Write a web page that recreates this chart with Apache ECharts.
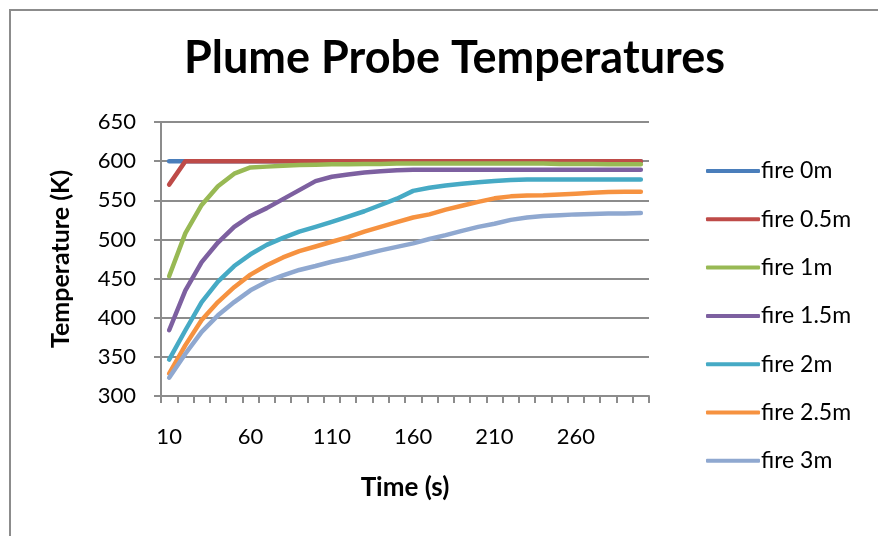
<!DOCTYPE html>
<html>
<head>
<meta charset="utf-8">
<script src="https://cdn.jsdelivr.net/npm/echarts@6/dist/echarts.min.js"></script>
<style>html,body{margin:0;padding:0;background:#fff}#c{width:878px;height:536px}</style>
</head>
<body>
<div id="c"></div>
<script>
const categories = ['10','20','30','40','50','60','70','80','90','100','110','120','130','140','150','160','170','180','190','200','210','220','230','240','250','260','270','280','290','300'];
const seriesNames = ['fire 0m','fire 0.5m','fire 1m','fire 1.5m','fire 2m','fire 2.5m','fire 3m'];
const fire0 = [600,600,600,600,600,600,600,600,600,600,600,600,600,600,600,600,600,600,600,600,600,600,600,600,600,600,600,600,600,600];
const fire05 = [570,600,600,600,600,600,600,600,600,600,600,600,600,600,600,600,600,600,600,600,600,600,600,600,600,600,600,600,600,600];
const fire1 = [453,508,544,568,584,592,593,594,595,595.5,596,596,596.5,596.5,597,597,597,597,597,597,597,597,597,597,596.5,596.5,596.5,596,596,596];
const fire15 = [384,435,471,496,516,530,540,551.5,563,574.5,580,583,585.5,587,588.5,589,589,589,589,589,589,589,589,589,589,589,589,589,589,589];
const fire2 = [346.5,384,420,446,466,481,493,502,510,516,522.5,529,536,544,552,562,566,569,571,573,574.5,576,576.5,576.5,576.5,576.5,576.5,576.5,576.5,576.5];
const fire25 = [328.6,365,397,420,439,455,467,477,485,491,497,503,510,516,522,528,532,538,543,548,552.5,555,556,556.5,557.5,558.5,559.5,560.5,561,561];
const fire3 = [323.4,354,382,403,420,435,446,454,461,466,471.5,476,481,486,490.5,495,500.5,505.5,511,516,520,525,528,530,531,532,532.5,533,533.2,533.6];
const yTicks = [300,350,400,450,500,550,600,650];

const allData = [fire0, fire05, fire1, fire15, fire2, fire25, fire3];
const colors = ['#4A7EBB','#BE4B48','#98B954','#7D60A0','#46AAC5','#F69240','#8FA8D0'];
const FONT = 'Lato';
const gray = '#8c8c8c';

const chart = echarts.init(document.getElementById('c'), null, {renderer:'canvas'});
chart.setOption({
  animation: false,
  backgroundColor: '#fff',
  color: colors,
  textStyle: {fontFamily: FONT},
  graphic: [{
    type: 'rect', silent: true, z: -1,
    shape: {x: 10, y: 10, width: 1000, height: 1000},
    style: {fill: 'none', stroke: gray, lineWidth: 2}
  }],
  title: {
    text: 'Plume Probe Temperatures',
    left: 179, top: 31,
    textStyle: {fontFamily: FONT, fontWeight: 'bold', fontSize: 45, color: '#000'}
  },
  legend: {
    orient: 'vertical',
    left: 706, top: 159,
    padding: 0,
    icon: 'roundRect',
    itemWidth: 54, itemHeight: 4, itemGap: 24.3,
    data: seriesNames,
    textStyle: {fontFamily: FONT, fontSize: 23, color: '#000', lineHeight: 24, padding: [0, 0, 0, -4]}
  },
  grid: {left: 161, right: 229, top: 122, bottom: 140, containLabel: false},
  xAxis: {
    type: 'category',
    data: categories,
    boundaryGap: true,
    name: 'Time (s)',
    nameLocation: 'middle',
    nameGap: 79,
    nameTextStyle: {fontFamily: FONT, fontWeight: 'bold', fontSize: 26, color: '#000'},
    axisLine: {lineStyle: {color: gray, width: 2}},
    axisTick: {show: true, interval: 0, length: 7, lineStyle: {color: gray, width: 2}},
    axisLabel: {interval: 4, margin: 30, fontFamily: FONT, fontSize: 22, color: '#000'},
    splitLine: {show: false}
  },
  yAxis: {
    type: 'value',
    min: yTicks[0], max: yTicks[yTicks.length-1], interval: 50,
    name: 'Temperature (K)',
    nameLocation: 'middle',
    nameGap: 88,
    nameRotate: 90,
    nameTextStyle: {fontFamily: FONT, fontWeight: 'bold', fontSize: 25, color: '#000'},
    axisLine: {show: true, lineStyle: {color: gray, width: 2}},
    axisTick: {show: true, length: 7, lineStyle: {color: gray, width: 2}},
    axisLabel: {margin: 25, fontFamily: FONT, fontSize: 22, color: '#000'},
    splitLine: {show: true, lineStyle: {color: gray, width: 2}}
  },
  series: seriesNames.map((n, i) => ({
    name: n,
    type: 'line',
    data: allData[i],
    symbol: 'none',
    showSymbol: false,
    lineStyle: {width: 4.5, cap: 'round', join: 'round', color: colors[i]},
    itemStyle: {color: colors[i]}
  }))
});
</script>
</body>
</html>
